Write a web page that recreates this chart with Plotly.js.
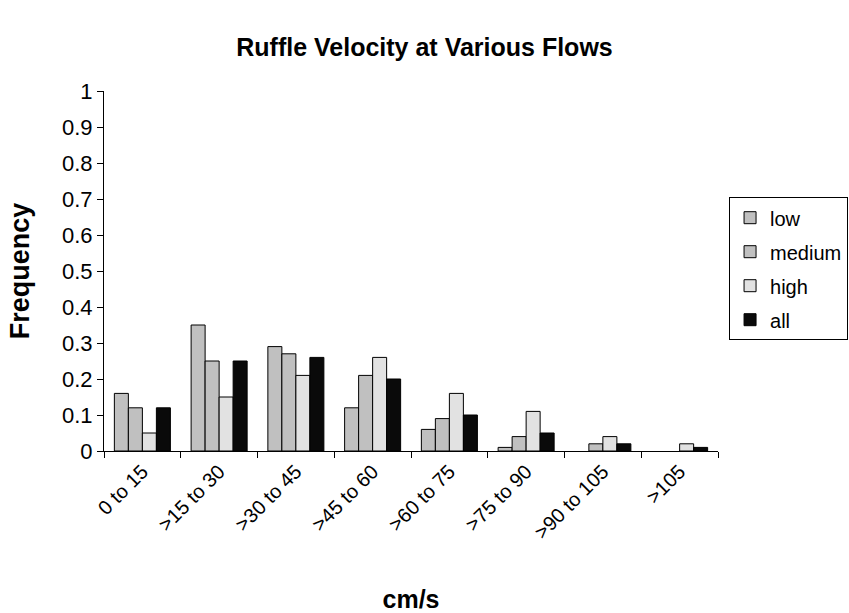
<!DOCTYPE html>
<html>
<head>
<meta charset="utf-8">
<script src="https://cdn.plot.ly/plotly-3.0.1.min.js"></script>
<style>html,body{margin:0;padding:0;background:#fff;}#chart{width:849px;height:613px;}</style>
</head>
<body>
<div id="chart"></div>
<script>
const categories = ["0 to 15", ">15 to 30", ">30 to 45", ">45 to 60", ">60 to 75", ">75 to 90", ">90 to 105", ">105"];
const lowVals    = [0.16, 0.35, 0.29, 0.12, 0.06, 0.01, 0.00, 0.00];
const mediumVals = [0.12, 0.25, 0.27, 0.21, 0.09, 0.04, 0.02, 0.00];
const highVals   = [0.05, 0.15, 0.21, 0.26, 0.16, 0.11, 0.04, 0.02];
const allVals    = [0.12, 0.25, 0.26, 0.20, 0.10, 0.05, 0.02, 0.01];
const seriesNames = ["low", "medium", "high", "all"];
const seriesColors = ["#c0c0c0", "#c0c0c0", "#e2e2e2", "#0a0a0a"];
const yTickVals = [0, 0.1, 0.2, 0.3, 0.4, 0.5, 0.6, 0.7, 0.8, 0.9, 1];
const yTickText = ["0", "0.1", "0.2", "0.3", "0.4", "0.5", "0.6", "0.7", "0.8", "0.9", "1"];

const FONT = "Liberation Sans, Arial, sans-serif";
const allSeries = [lowVals, mediumVals, highVals, allVals];
const traces = allSeries.map((vals, i) => ({
  type: "bar",
  x: categories,
  y: vals,
  name: seriesNames[i],
  legendgroup: "g" + i,
  marker: { color: seriesColors[i], line: { color: "#000", width: vals.map(v => v > 0 ? 1 : 0) } },
  hoverinfo: "x+y+name"
}));

const layout = {
  width: 849, height: 613,
  paper_bgcolor: "#fff", plot_bgcolor: "#fff",
  margin: { l: 104, r: 131, t: 91, b: 162, autoexpand: false },
  font: { family: FONT, color: "#000", size: 20 },
  title: { text: "Ruffle Velocity at Various Flows", font: { family: FONT, size: 25, weight: "bold" }, x: 0.5, xanchor: "center", y: 0.923, yanchor: "middle" },
  barmode: "group", bargap: 0.27, bargroupgap: 0,
  showlegend: true,
  legend: {
    x: 1.018, xanchor: "left", y: 0.705, yanchor: "top",
    bordercolor: "#000", borderwidth: 1, bgcolor: "#fff",
    font: { family: FONT, size: 20 }, traceorder: "grouped", tracegroupgap: 5,
    itemwidth: 30
  },
  xaxis: {
    type: "category", range: [-0.5, 7.5], tickson: "boundaries",
    ticks: "outside", ticklen: 6, tickcolor: "#000", tickwidth: 1,
    showline: true, linecolor: "#000", linewidth: 1, showgrid: false, zeroline: false,
    tickangle: -45, tickfont: { family: FONT, size: 20 }, automargin: false,
    title: { text: "cm/s", font: { family: FONT, size: 25, weight: "bold" }, standoff: 48 }
  },
  yaxis: {
    range: [0, 1], tickvals: yTickVals, ticktext: yTickText,
    ticks: "outside", ticklen: 6, tickcolor: "#000", tickwidth: 1,
    showline: true, linecolor: "#000", linewidth: 1, showgrid: false, zeroline: false,
    tickfont: { family: FONT, size: 22 }, automargin: false,
    title: { text: "Frequency", font: { family: FONT, size: 27, weight: "bold" }, standoff: 24 }
  }
};

Plotly.newPlot("chart", traces, layout, { displayModeBar: false, staticPlot: true });
</script>
</body>
</html>
